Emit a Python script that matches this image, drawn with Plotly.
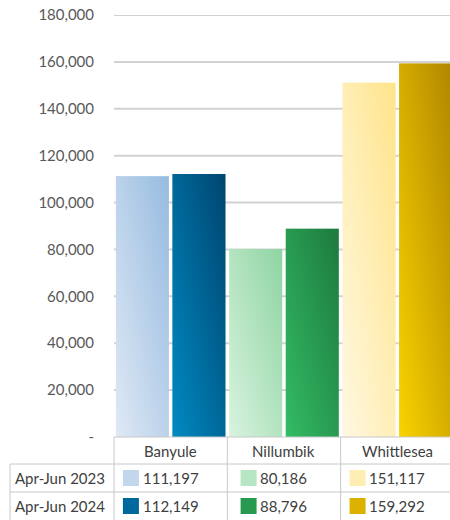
import plotly.graph_objects as go

# ---- data -------------------------------------------------------------
districts = ["Banyule", "Nillumbik", "Whittlesea"]
periods = ["Apr-Jun 2023", "Apr-Jun 2024"]
values_2023 = [111197, 80186, 151117]
values_2024 = [112149, 88796, 159292]
y_tick_values = [0, 20000, 40000, 60000, 80000, 100000, 120000, 140000, 160000, 180000]

# (light, dark) shading pair per bar: light at bottom-left, dark at top-right
shades_2023 = [("#dfe9f5", "#97bbe0"), ("#d8f3df", "#8fd4a2"), ("#fff8e2", "#ffe48a")]
shades_2024 = [("#008ac2", "#004570"), ("#33bb65", "#1d7a3d"), ("#f9d300", "#b08600")]
key_colors_2023 = ["#c2d6ec", "#b6e6c3", "#ffeeb2"]
key_colors_2024 = ["#00689c", "#279a4f", "#dcb100"]

# ---- geometry (pixels) -----------------------------------------------
W, H = 450, 520
PLOT_L, PLOT_T, PLOT_B = 114, 15, 437
CAT_PX = 113.33                      # width of one category column
HEADER_B, ROW1_B, ROW2_B = 464, 492, 520
TABLE_L = 10
FONT = "Lato"
GRID = "#d2d2d2"
BORDER = "#c8c8c8"

bar_offsets = [(-0.483, -0.016), (0.016, 0.483)]


def rgba(hex_color, a):
    h = hex_color.lstrip("#")
    r, g, b = int(h[0:2], 16), int(h[2:4], 16), int(h[4:6], 16)
    return f"rgba({r},{g},{b},{a})"


def px_x(x):
    return x / W


def px_y(y):
    return 1 - y / H


fig = go.Figure()

series = [(values_2023, shades_2023, periods[0]), (values_2024, shades_2024, periods[1])]
for s, (vals, shades, name) in enumerate(series):
    o0, o1 = bar_offsets[s]
    for i, v in enumerate(vals):
        x0, x1 = i + o0, i + o1
        xs = [x0, x1, x1, x0, x0]
        ys = [0, 0, v, v, 0]
        light, dark = shades[i]
        # vertical shading, light at the base
        fig.add_trace(go.Scatter(
            x=xs, y=ys, mode="lines", fill="toself",
            line=dict(width=0, color="rgba(0,0,0,0)"),
            fillgradient=dict(type="vertical", start=0, stop=v,
                              colorscale=[[0, light], [1, dark]]),
            name=f"{name} {districts[i]}",
            hovertemplate=f"{districts[i]}<br>{name}: {v:,}<extra></extra>",
        ))
        # horizontal shading on top gives the diagonal sweep
        fig.add_trace(go.Scatter(
            x=xs, y=ys, mode="lines", fill="toself",
            line=dict(width=0, color="rgba(0,0,0,0)"),
            fillgradient=dict(type="horizontal", start=x0, stop=x1,
                              colorscale=[[0, rgba(light, 0.5)], [1, rgba(dark, 0.5)]]),
            hoverinfo="skip",
        ))

x_span = (W - PLOT_L) / CAT_PX
fig.update_xaxes(
    range=[-0.5, -0.5 + x_span], domain=[PLOT_L / W, 1],
    showgrid=False, zeroline=False, showticklabels=False, showline=False,
    fixedrange=True,
)
fig.update_yaxes(
    range=[0, y_tick_values[-1]], domain=[1 - PLOT_B / H, 1 - PLOT_T / H],
    tickvals=y_tick_values,
    ticktext=["-" if v == 0 else f"{v:,}" for v in y_tick_values],
    showgrid=False, zeroline=False, showline=False,
    ticks="", ticklabelstandoff=19, automargin=False,
    tickfont=dict(family=FONT, size=15, color="#595959"),
    fixedrange=True,
)

shapes = []
# horizontal gridlines behind the bars
for v in y_tick_values[1:]:
    shapes.append(dict(type="line", xref="x domain", yref="y",
                       x0=0, x1=1, y0=v, y1=v, layer="below",
                       line=dict(color=GRID, width=2)))

# ---- data table -------------------------------------------------------
line = dict(color=BORDER, width=1)
# horizontal rules
shapes.append(dict(type="line", xref="paper", yref="paper",
                   x0=px_x(PLOT_L), x1=1, y0=px_y(PLOT_B), y1=px_y(PLOT_B), line=line))
for yb in (HEADER_B, ROW1_B):
    shapes.append(dict(type="line", xref="paper", yref="paper",
                       x0=px_x(TABLE_L), x1=1, y0=px_y(yb), y1=px_y(yb), line=line))
# vertical rules
shapes.append(dict(type="line", xref="paper", yref="paper",
                   x0=px_x(TABLE_L), x1=px_x(TABLE_L), y0=px_y(HEADER_B), y1=px_y(ROW2_B), line=line))
for c in range(len(districts)):
    xl = PLOT_L + c * CAT_PX
    shapes.append(dict(type="line", xref="paper", yref="paper",
                       x0=px_x(xl), x1=px_x(xl), y0=px_y(PLOT_B), y1=px_y(ROW2_B), line=line))

annotations = []
text_font = dict(family=FONT, size=15, color="#404040")
header_mid = (PLOT_B + HEADER_B) / 2
row_mids = [(HEADER_B + ROW1_B) / 2, (ROW1_B + ROW2_B) / 2]

for c, d in enumerate(districts):
    cx = PLOT_L + (c + 0.5) * CAT_PX
    annotations.append(dict(x=px_x(cx), y=px_y(header_mid), xref="paper", yref="paper",
                            text=d, showarrow=False, font=text_font,
                            xanchor="center", yanchor="middle"))

for r, (vals, keys) in enumerate([(values_2023, key_colors_2023), (values_2024, key_colors_2024)]):
    ym = row_mids[r]
    annotations.append(dict(x=px_x(TABLE_L + 3), y=px_y(ym), xref="paper", yref="paper",
                            text=periods[r], showarrow=False, font=text_font,
                            xanchor="left", yanchor="middle"))
    for c, v in enumerate(vals):
        cx = PLOT_L + (c + 0.5) * CAT_PX
        label = f"{v:,}"
        approx_w = sum(3.3 if ch == "," else 8.7 for ch in label)
        annotations.append(dict(x=px_x(cx), y=px_y(ym), xref="paper", yref="paper",
                                text=label, showarrow=False, font=text_font,
                                xanchor="center", yanchor="middle"))
        k1 = cx - approx_w / 2 - 4
        shapes.append(dict(type="rect", xref="paper", yref="paper",
                           x0=px_x(k1 - 16), x1=px_x(k1),
                           y0=px_y(ym + 8), y1=px_y(ym - 8),
                           fillcolor=keys[c], line=dict(width=0)))

fig.update_layout(
    template="none",
    width=W, height=H,
    margin=dict(l=0, r=0, t=0, b=0),
    paper_bgcolor="white", plot_bgcolor="white",
    showlegend=False,
    shapes=shapes, annotations=annotations,
    font=dict(family=FONT),
)

fig.write_html("out.html")
